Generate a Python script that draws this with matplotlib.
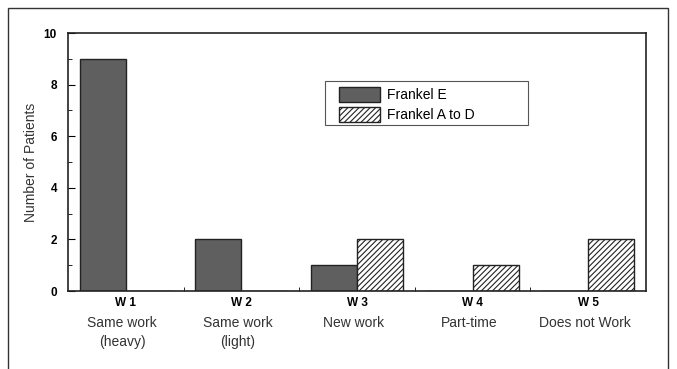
import numpy as np
import matplotlib.pyplot as plt
from matplotlib.patches import Rectangle

plt.rcParams['font.family'] = ['Liberation Sans', 'DejaVu Sans']
plt.rcParams['hatch.linewidth'] = 0.8

# data
codes = ['W 1', 'W 2', 'W 3', 'W 4', 'W 5']
desc = ['Same work\n(heavy)', 'Same work\n(light)', 'New work', 'Part-time', 'Does not Work']
frankel_e = [9, 2, 1, 0, 0]
frankel_ad = [0, 0, 2, 1, 2]

fig = plt.figure(figsize=(6.77, 3.69), dpi=100)
ax = fig.add_axes([68 / 677, 1 - 291 / 369, 578 / 677, 258 / 369])

x = np.arange(len(codes))
w = 0.4
ax.bar(x - w / 2, frankel_e, w, color='#5f5f5f', edgecolor='#222222', linewidth=1.0,
       label='Frankel E')
ax.bar(x + w / 2, frankel_ad, w, color='white', edgecolor='#222222', linewidth=1.0,
       hatch='//////', label='Frankel A to D')

ax.set_xlim(-0.5, 4.5)
ax.set_ylim(0, 10)
ax.set_yticks([0, 2, 4, 6, 8, 10])
ax.set_yticks([1, 3, 5, 7, 9], minor=True)
ax.set_xticks(x)
ax.set_xticklabels(codes, fontsize=8.5, fontweight='bold')
ax.set_xticks([0.5, 1.5, 2.5, 3.5], minor=True)
ax.tick_params(axis='x', which='major', length=0, pad=4.5)
ax.tick_params(axis='x', which='minor', direction='in', length=3)
ax.tick_params(axis='y', which='major', direction='in', length=5, labelsize=8.5, pad=8)
ax.tick_params(axis='y', which='minor', direction='in', length=3)
for lab in ax.get_yticklabels():
    lab.set_fontweight('bold')
for s in ax.spines.values():
    s.set_linewidth(1.2)
    s.set_color('#222222')

ax.set_ylabel('Number of Patients', fontsize=10, color='#333333', labelpad=4)

for xi, d in zip(x, desc):
    ax.text(xi - 0.03, -0.095, d, transform=ax.get_xaxis_transform(), ha='center', va='top',
            fontsize=10, color='#333333', linespacing=1.5)

# legend entries without frame, box drawn separately
leg = ax.legend(loc='upper left', bbox_to_anchor=(0.468, 0.792), frameon=False,
                fontsize=10, borderpad=0, handlelength=3.0, handleheight=1.3,
                labelspacing=0.35, handletextpad=0.5, borderaxespad=0)
ax.add_patch(Rectangle((0.445, 0.643), 0.351, 0.171, transform=ax.transAxes, fill=False,
                       edgecolor='#555555', linewidth=0.8, zorder=5))

# outer frame of the figure
fig.patches.append(Rectangle((8 / 677, -0.1), 660 / 677, 1.1 - 8 / 369, transform=fig.transFigure,
                             fill=False, edgecolor='#333333', linewidth=1.0))

fig.savefig('out.png', dpi=100)
